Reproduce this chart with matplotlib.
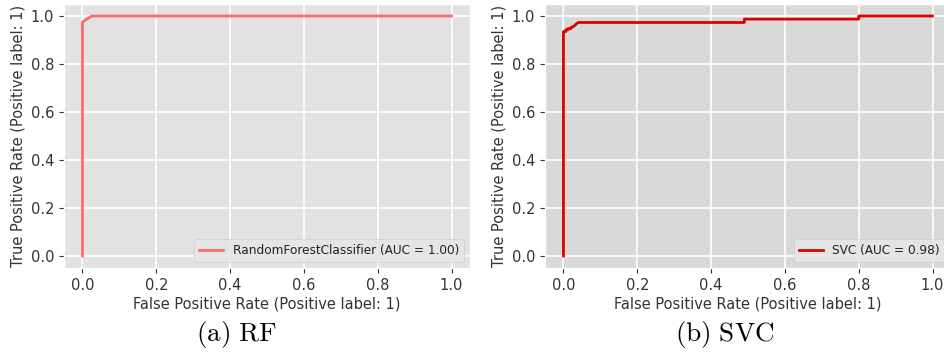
import matplotlib
matplotlib.use("Agg")
from matplotlib import pyplot as plt

plt.style.use("ggplot")
plt.rcParams["mathtext.fontset"] = "cm"

# ROC points
rf_fpr = [0.0, 0.0, 0.025, 1.0]
rf_tpr = [0.0, 0.975, 1.0, 1.0]
rf_label = "RandomForestClassifier (AUC = 1.00)"

svc_fpr = [0.0, 0.0, 0.006, 0.006, 0.012, 0.012, 0.02, 0.02, 0.028, 0.033, 0.04, 0.04,
           0.49, 0.49, 0.8, 0.8, 1.0]
svc_tpr = [0.0, 0.935, 0.935, 0.942, 0.942, 0.947, 0.947, 0.952, 0.957, 0.965, 0.973, 0.973,
           0.973, 0.987, 0.987, 1.0, 1.0]
svc_label = "SVC (AUC = 0.98)"

fig = plt.figure(figsize=(9.44, 3.58), dpi=100)
fig.patch.set_facecolor("white")

W, H = 944.0, 358.0
ax1 = fig.add_axes([64 / W, 1 - 268 / H, 406 / W, 264 / H])
ax2 = fig.add_axes([545 / W, 1 - 268 / H, 406 / W, 264 / H])

panels = [
    (ax1, rf_fpr, rf_tpr, rf_label, "#ff6b6b", "#e2e2e2"),
    (ax2, svc_fpr, svc_tpr, svc_label, "#dd0000", "#d9d9d9"),
]

for ax, fpr, tpr, lab, col, bg in panels:
    ax.plot(fpr, tpr, color=col, lw=2, label=lab)
    ax.set_facecolor(bg)
    ax.set_xlim(-0.05, 1.05)
    ax.set_ylim(-0.05, 1.05)
    ax.set_xticks([0, 0.2, 0.4, 0.6, 0.8, 1.0])
    ax.set_yticks([0, 0.2, 0.4, 0.6, 0.8, 1.0])
    ax.tick_params(labelsize=10.5, colors="#333333")
    ax.set_xlabel("False Positive Rate (Positive label: 1)", fontsize=10.5, color="#333333",
                  labelpad=3)
    ax.set_ylabel("True Positive Rate (Positive label: 1)", fontsize=10.5, color="#333333")
    ax.grid(True, color="white", lw=1.2)
    leg = ax.legend(loc="lower right", fontsize=8.7, facecolor="#e6e6e6",
                    edgecolor="#cccccc", framealpha=0.9)
    for t in leg.get_texts():
        t.set_color("#222222")

fig.text(236 / W, 1 - 334 / H, r"$\mathrm{(a)\ RF}$", fontsize=19.5, ha="center", va="center")
fig.text(725 / W, 1 - 334 / H, r"$\mathrm{(b)\ SVC}$", fontsize=19.5, ha="center", va="center")

fig.savefig("out.png", dpi=100)
